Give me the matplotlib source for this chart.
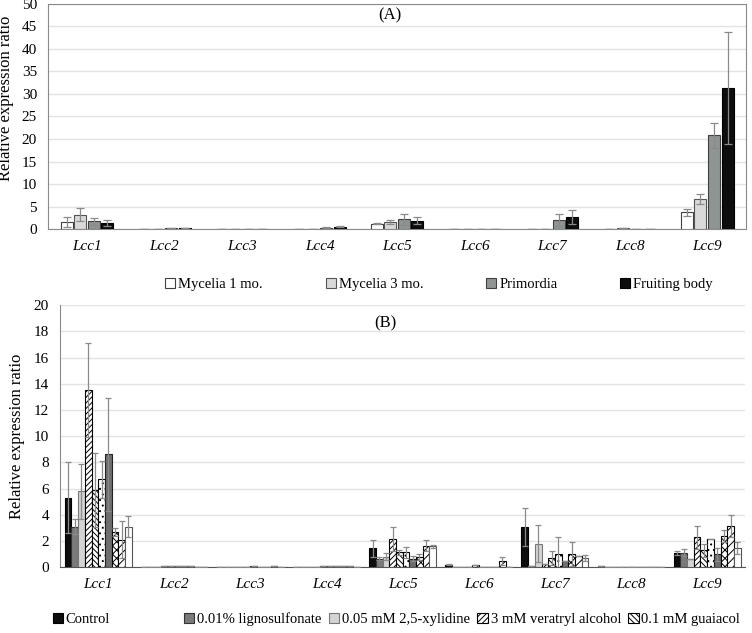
import numpy as np
import matplotlib.pyplot as plt
from matplotlib import rcParams

rcParams['font.family'] = ['Liberation Serif', 'DejaVu Serif']
rcParams['font.size'] = 11
rcParams['hatch.linewidth'] = 0.7

genes = ['Lcc1', 'Lcc2', 'Lcc3', 'Lcc4', 'Lcc5', 'Lcc6', 'Lcc7', 'Lcc8', 'Lcc9']

# panel A: developmental stages
stages = ['Mycelia 1 mo.', 'Mycelia 3 mo.', 'Primordia', 'Fruiting body']
a_vals = [
    [1.6, 0.1, 0.1, 0.1, 1.2, 0.1, 0.05, 0.1, 3.7],
    [3.2, 0.1, 0.1, 0.1, 1.6, 0.1, 0.1, 0.2, 6.6],
    [1.7, 0.2, 0.0, 0.3, 2.2, 0.1, 2.0, 0.1, 20.8],
    [1.4, 0.2, 0.1, 0.5, 1.9, 0.1, 2.7, 0.1, 31.4],
]
a_err = [
    [1.1, 0.0, 0.0, 0.0, 0.1, 0.0, 0.0, 0.0, 0.7],
    [1.5, 0.0, 0.0, 0.0, 0.4, 0.0, 0.0, 0.0, 1.1],
    [0.7, 0.0, 0.0, 0.1, 1.2, 0.0, 1.4, 0.0, 2.8],
    [0.6, 0.0, 0.0, 0.1, 0.8, 0.0, 1.6, 0.0, 12.4],
]

# panel B: inducers (only first five are named in the legend)
inducers = ['Control', '0.01% lignosulfonate', '0.05 mM 2,5-xylidine',
            '3 mM veratryl alcohol', '0.1 mM guaiacol']
b_vals = [
    [5.3, 0.05, 0.0, 0.05, 1.43, 0.2, 3.07, 0.1, 1.05],
    [3.1, 0.05, 0.0, 0.05, 0.66, 0.05, 0.1, 0.05, 1.1],
    [5.8, 0.05, 0.0, 0.05, 0.8, 0.05, 1.8, 0.05, 0.6],
    [13.5, 0.1, 0.0, 0.05, 2.15, 0.05, 0.25, 0.05, 2.27],
    [5.9, 0.1, 0.0, 0.1, 1.13, 0.2, 0.7, 0.05, 1.28],
    [6.7, 0.1, 0.12, 0.1, 1.13, 0.05, 1.0, 0.05, 2.15],
    [8.6, 0.1, 0.0, 0.1, 0.66, 0.05, 0.5, 0.05, 1.0],
    [2.7, 0.1, 0.0, 0.1, 0.78, 0.05, 1.0, 0.05, 2.36],
    [2.1, 0.05, 0.12, 0.1, 1.64, 0.45, 0.85, 0.05, 3.16],
    [3.1, 0.05, 0.0, 0.05, 1.58, 0.05, 0.7, 0.05, 1.46],
]
b_err = [
    [2.7, 0, 0, 0, 0.63, 0.05, 1.45, 0, 0.15],
    [0.6, 0, 0, 0, 0.15, 0, 0, 0, 0.25],
    [2.1, 0, 0, 0, 0.25, 0, 1.4, 0, 0],
    [3.6, 0, 0, 0, 0.92, 0, 0, 0, 0.9],
    [2.8, 0, 0, 0, 0.17, 0, 0.55, 0, 0.5],
    [1.4, 0, 0, 0, 0.42, 0, 1.27, 0, 0],
    [4.3, 0, 0, 0, 0.2, 0, 0, 0, 0.5],
    [0.3, 0, 0, 0, 0.22, 0, 0.9, 0, 0.45],
    [1.4, 0, 0, 0, 0.42, 0.3, 0, 0, 0.85],
    [0.8, 0, 0, 0, 0.12, 0, 0.2, 0, 0.45],
]

fig = plt.figure(figsize=(7.52, 6.33), dpi=100)
x = np.arange(len(genes))

# ---------- (A)
axA = fig.add_axes([0.064, 0.638, 0.928, 0.356])
a_face = ['white', '#d9d9d9', '#8e9592', '#0d0d0d']
a_edge = ['#404040', '#555555', '#404040', '#000000']
step = 0.175
for i in range(4):
    pos = x + (i - 1.5) * step
    axA.bar(pos, a_vals[i], 0.155, color=a_face[i], edgecolor=a_edge[i],
            linewidth=0.8, label=stages[i], zorder=3)
    axA.errorbar(pos, a_vals[i], yerr=a_err[i], fmt='none', ecolor='#8a8a8a',
                 elinewidth=0.9, capsize=3, capthick=0.9, zorder=4)
axA.set_ylim(0, 50)
axA.set_xlim(-0.5, 8.5)
axA.set_yticks(range(0, 51, 5))
axA.set_xticks(x)
axA.set_xticklabels(genes, style='italic')
axA.grid(axis='y', color='#e3e3e3', linewidth=1, zorder=0)
axA.tick_params(length=0, pad=8)
for s in axA.spines.values():
    s.set_color('#8a8a8a')
axA.text(0.49, 0.95, '(A)', transform=axA.transAxes, ha='center', va='center', fontsize=12)
fig.text(-0.002, 0.845, 'Relative expression ratio', rotation=90, ha='left', va='center', fontsize=12)
axA.legend(loc='center', bbox_to_anchor=(0.56, -0.245), ncol=4, frameon=False,
           handlelength=0.7, handleheight=0.7, handletextpad=0.2, columnspacing=4.3,
           fontsize=10.5)

# ---------- (B)
axB = fig.add_axes([0.08, 0.104, 0.911, 0.414])
b_face = ['#0d0d0d', '#7a7a7a', '#d4d4d4', 'white', 'white', 'white',
          '#6e6e6e', 'white', 'white', 'white']
b_hatch = [None, None, None, '//////', '\\\\\\\\\\\\', '...', None, 'xxxx', '////', None]
b_edge = ['black', '#333333', '#777777', 'black', 'black', 'black',
          '#222222', 'black', 'black', '#555555']
bw = 0.088
for i in range(10):
    pos = x + (i - 4.5) * bw
    lab = inducers[i] if i < 5 else None
    axB.bar(pos, b_vals[i], bw, color=b_face[i], edgecolor=b_edge[i], hatch=b_hatch[i],
            linewidth=0.8, label=lab, zorder=3)
    axB.errorbar(pos, b_vals[i], yerr=b_err[i], fmt='none', ecolor='#8a8a8a',
                 elinewidth=0.9, capsize=2.5, capthick=0.9, zorder=4)
axB.set_ylim(0, 20)
axB.set_xlim(-0.5, 8.5)
axB.set_yticks(range(0, 21, 2))
axB.set_xticks(x)
axB.set_xticklabels(genes, style='italic')
axB.grid(axis='y', color='#e3e3e3', linewidth=1, zorder=0)
axB.tick_params(length=0, pad=8)
axB.spines['top'].set_visible(False)
axB.spines['right'].set_visible(False)
axB.spines['left'].set_color('#8a8a8a')
axB.spines['bottom'].set_color('#555555')
axB.text(0.474, 0.93, '(B)', transform=axB.transAxes, ha='center', va='center', fontsize=12)
axB.set_ylabel('Relative expression ratio', fontsize=12, labelpad=6)

hB, lB = axB.get_legend_handles_labels()
leg1 = axB.legend(hB[:1], lB[:1], loc='center left', bbox_to_anchor=(-0.03, -0.2),
                  frameon=False, handlelength=0.7, handleheight=0.7, handletextpad=0.2,
                  fontsize=10.5)
axB.add_artist(leg1)
axB.legend(hB[1:], lB[1:], loc='center right', bbox_to_anchor=(1.012, -0.2), ncol=4,
           frameon=False, handlelength=0.7, handleheight=0.7, handletextpad=0.2,
           columnspacing=0.5, fontsize=10.5)

fig.savefig('out.png', dpi=100)
